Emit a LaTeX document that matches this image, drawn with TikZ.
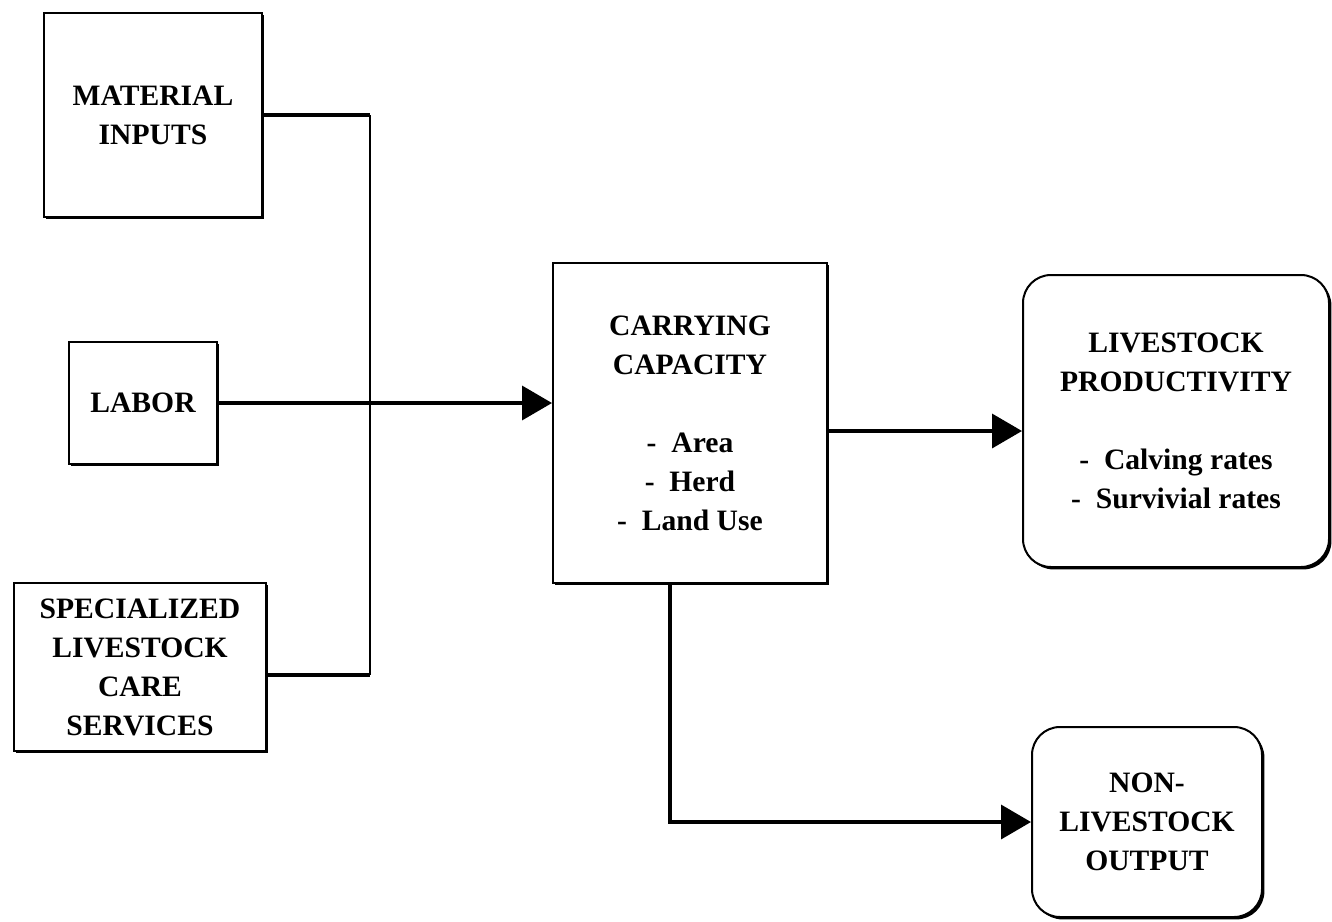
\documentclass[tikz,border=0pt]{standalone}
\usepackage{fontspec}
\setmainfont{Liberation Serif}
\usetikzlibrary{arrows.meta,shadows}

\tikzset{
  box/.style={draw, line width=1pt, fill=white, align=center, inner sep=0pt,
    font=\bfseries\fontsize{14.8}{19.5}\selectfont,
    drop shadow={shadow xshift=1.2pt, shadow yshift=-1.2pt, fill=black, opacity=1}},
  rbox/.style={box, rounded corners=14pt},
  link/.style={line width=1.6pt},
  flow/.style={line width=1.8pt, -{Triangle[length=15pt,width=17pt]}}
}

\begin{document}
\begin{tikzpicture}[x=0.5pt, y=-0.5pt]
    \useasboundingbox (0,0) rectangle (1332,921);
    % inputs
    \node[box, minimum width=109pt, minimum height=102pt] (mat) at (153,115) {MATERIAL\\INPUTS};
    \node[box, minimum width=74pt, minimum height=61pt] (lab) at (143,403) {LABOR};
    \node[box, minimum width=126pt, minimum height=84pt] (spec) at (140,667) {SPECIALIZED\\LIVESTOCK\\CARE\\SERVICES};
    % centre and outputs
    \node[box, minimum width=137pt, minimum height=160pt] (carry) at (690,423)
        {CARRYING\\CAPACITY\\[19.5pt]-\ \ Area\\-\ \ Herd\\-\ \ Land Use};
    \node[rbox, minimum width=153pt, minimum height=146pt] (live) at (1176,421)
        {LIVESTOCK\\PRODUCTIVITY\\[19.5pt]-\ \ Calving rates\\-\ \ Survivial rates};
    \node[rbox, minimum width=115pt, minimum height=95pt] (non) at (1147,822) {NON-\\LIVESTOCK\\OUTPUT};

    \coordinate (bus) at (370,0);
    \coordinate (s1) at ([yshift=-4pt]spec.east);
    \coordinate (c1) at ([yshift=-4pt]carry.east);
    \coordinate (c2) at ([xshift=-10pt]carry.south);

    \draw [line width=1pt] (mat.east -| bus) -- (s1 -| bus);
    \draw [link] (mat.east) -- (mat.east -| bus);
    \draw [link] (s1) -- (s1 -| bus);
    \draw [flow] (lab.east) -- (lab.east -| carry.west);
    \draw [flow] (c1) -- (c1 -| live.west);
    \draw [flow] (c2) |- (non.west);
\end{tikzpicture}
\end{document}
